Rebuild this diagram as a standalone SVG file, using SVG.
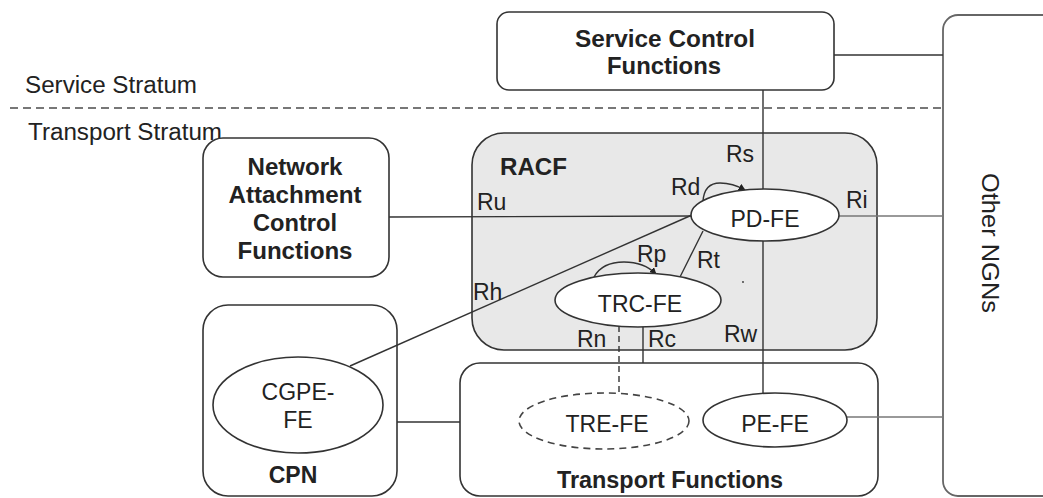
<svg xmlns="http://www.w3.org/2000/svg" width="1043" height="498" viewBox="0 0 1043 498">
<style>
text{font-family:"Liberation Sans",Arial,sans-serif;font-size:23px;fill:#222}
.b{font-weight:bold}
.m{text-anchor:middle}
.box{fill:#fff;stroke:#333;stroke-width:1.6}
.ell{fill:#fff;stroke:#333;stroke-width:1.6}
.ln{stroke:#333;stroke-width:1.4;fill:none}
.gl{stroke:#777;stroke-width:1.6;fill:none}
</style>
<defs>
<marker id="ah" viewBox="0 0 10 10" refX="9" refY="5" markerWidth="7" markerHeight="7" orient="auto" markerUnits="userSpaceOnUse">
<path d="M0,0 L10,5 L0,10 z" fill="#222"/>
</marker>
</defs>
<rect width="1043" height="498" fill="#fff"/>
<g id="strata">
<line x1="10" y1="108" x2="943" y2="108" stroke="#777" stroke-width="1.8" stroke-dasharray="8,5"/>
<text x="25" y="93" textLength="172" lengthAdjust="spacingAndGlyphs">Service Stratum</text>
<text x="28" y="140" textLength="194" lengthAdjust="spacingAndGlyphs">Transport Stratum</text>
</g>
<g id="racf">
<rect x="472" y="133" width="405" height="217" rx="32" fill="#e8e8e8" stroke="#333" stroke-width="1.6"/>
<text class="b" x="500" y="175" textLength="67" lengthAdjust="spacingAndGlyphs">RACF</text>
</g>
<g id="other-ngns">
<rect x="943" y="15" width="130" height="481" rx="15" fill="#fff" stroke="#666" stroke-width="1.8"/>
<text class="m" transform="translate(982,243) rotate(90)" textLength="140" lengthAdjust="spacingAndGlyphs">Other NGNs</text>
</g>
<g id="scf">
<rect class="box" x="497" y="12" width="337" height="78" rx="12"/>
<text class="b m" x="665" y="47" textLength="180" lengthAdjust="spacingAndGlyphs">Service Control</text>
<text class="b m" x="664" y="74" textLength="114" lengthAdjust="spacingAndGlyphs">Functions</text>
</g>
<g id="nacf">
<rect class="box" x="203" y="138" width="186" height="139" rx="20"/>
<text class="b m" x="295" y="175" textLength="95" lengthAdjust="spacingAndGlyphs">Network</text>
<text class="b m" x="295" y="203" textLength="133" lengthAdjust="spacingAndGlyphs">Attachment</text>
<text class="b m" x="295" y="231" textLength="84" lengthAdjust="spacingAndGlyphs">Control</text>
<text class="b m" x="295" y="259" textLength="115" lengthAdjust="spacingAndGlyphs">Functions</text>
</g>
<g id="cpn">
<rect class="box" x="203" y="305" width="194" height="191" rx="25"/>
<text class="b m" x="293" y="483">CPN</text>
</g>
<g id="transport-functions">
<rect class="box" x="460" y="363" width="418" height="133" rx="20"/>
<text class="b m" x="670" y="488" textLength="226" lengthAdjust="spacingAndGlyphs">Transport Functions</text>
</g>
<g id="connectors">
<line class="ln" x1="834" y1="55" x2="943" y2="55"/>
<line class="ln" x1="763" y1="90" x2="763" y2="394"/>
<line class="ln" x1="389" y1="217" x2="692" y2="216"/>
<line class="gl" x1="839" y1="216" x2="943" y2="216"/>
<line class="ln" x1="692" y1="215" x2="350" y2="366"/>
<line class="ln" x1="703" y1="231" x2="680" y2="277"/>
<line class="ln" x1="643" y1="326" x2="643" y2="363"/>
<line class="ln" x1="619" y1="326" x2="619" y2="394" stroke-dasharray="6,4"/>
<line class="ln" x1="397" y1="422" x2="460" y2="422"/>
<line class="gl" x1="847" y1="417" x2="943" y2="417"/>
<path class="ln" d="M703,201 C704,188 710,183 720,183 C730,183 738,186 745,190" marker-end="url(#ah)"/>
<path class="ln" d="M594,277 C600,266 612,262 624,262 C638,262 648,266 656,274" marker-end="url(#ah)"/>
<circle cx="743" cy="282" r="0.9" fill="#333"/>
</g>
<g id="pd-fe">
<ellipse class="ell" cx="765" cy="215" rx="74" ry="26"/>
<text class="m" x="765" y="227">PD-FE</text>
</g>
<g id="trc-fe">
<ellipse class="ell" cx="638" cy="300" rx="83" ry="27"/>
<text class="m" x="640" y="312">TRC-FE</text>
</g>
<g id="cgpe-fe">
<ellipse class="ell" cx="298" cy="405" rx="85" ry="48"/>
<text class="m" x="298" y="400">CGPE-</text>
<text class="m" x="298" y="428">FE</text>
</g>
<g id="tre-fe">
<ellipse cx="604" cy="421" rx="85" ry="28" fill="#fff" stroke="#444" stroke-width="1.6" stroke-dasharray="7,5"/>
<text class="m" x="607" y="432">TRE-FE</text>
</g>
<g id="pe-fe">
<ellipse class="ell" cx="775" cy="420" rx="72" ry="27"/>
<text class="m" x="775" y="432">PE-FE</text>
</g>
<g id="labels">
<text x="726" y="162">Rs</text>
<text x="671" y="195">Rd</text>
<text x="477" y="210">Ru</text>
<text x="846" y="208">Ri</text>
<text x="473" y="300">Rh</text>
<text x="637" y="262">Rp</text>
<text x="697" y="268">Rt</text>
<text x="577" y="347">Rn</text>
<text x="648" y="347">Rc</text>
<text x="724" y="342">Rw</text>
</g>
</svg>
